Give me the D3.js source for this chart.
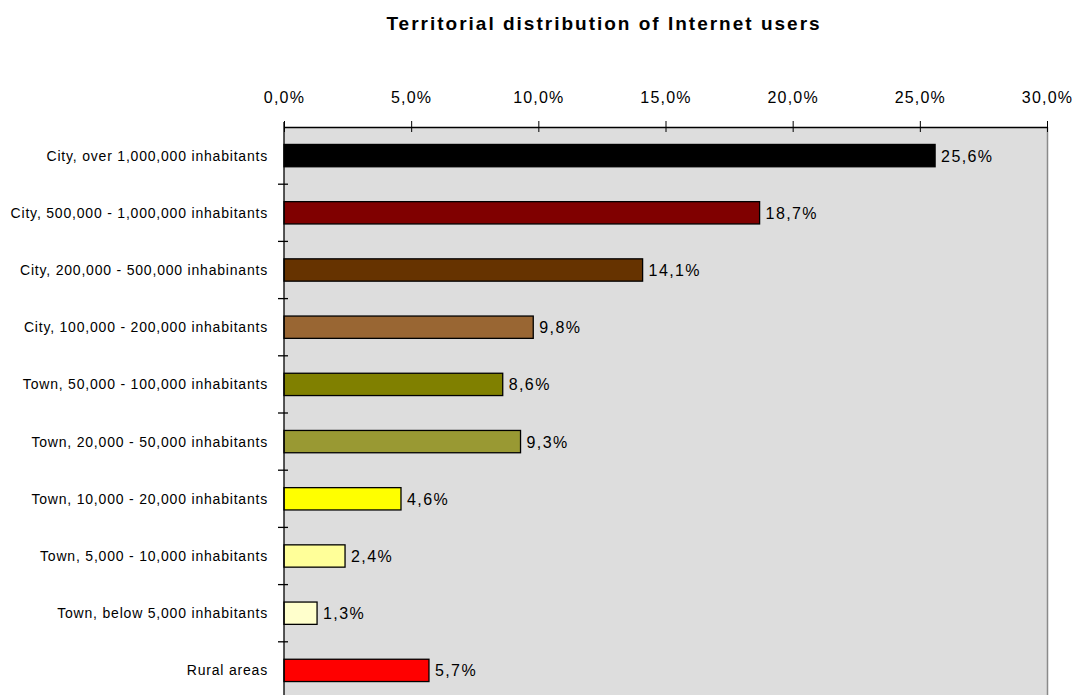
<!DOCTYPE html>
<html>
<head>
<meta charset="utf-8">
<script src="https://cdn.jsdelivr.net/npm/d3@7"></script>
<style>
  body { margin: 0; background: #fff; }
  text { font-family: "Liberation Sans", Arial, sans-serif; fill: #000; }
</style>
</head>
<body>
<div id="chart"></div>
<script>
var categories = [ 'City, over 1,000,000 inhabitants',
    'City, 500,000 - 1,000,000 inhabitants',
    'City, 200,000 - 500,000 inhabinants',
    'City, 100,000 - 200,000 inhabitants',
    'Town, 50,000 - 100,000 inhabitants',
    'Town, 20,000 - 50,000 inhabitants',
    'Town, 10,000 - 20,000 inhabitants',
    'Town, 5,000 - 10,000 inhabitants',
    'Town, below 5,000 inhabitants',
    'Rural areas' ];

var values = [ 25.6, 18.7, 14.1, 9.8, 8.6, 9.3, 4.6, 2.4, 1.3, 5.7 ];

var barColors = [ '#000000', '#800000', '#663300', '#996633',
    '#808000', '#999933', '#ffff00', '#ffff99', '#ffffcc', '#ff0000' ];

var tickValues = [ 0, 5, 10, 15, 20, 25, 30 ];

var svg,
    x, y;

// plot box (window.top is reserved, so plotTop)
var plotLeft = 284, plotTop = 127, plotRight = 1047;
var bandH = 57.2;

function fmt (v) {
    return v.toFixed(1).replace('.', ',') + '%';
}

function setupSVG (id) {
    svg = d3.select('#' + id).append("svg")
        .attr("width", 1075)
        .attr("height", 695);
}

function drawChart () {
    x = d3.scaleLinear().domain([0, 30]).range([plotLeft, plotRight]);
    y = d3.scaleBand().domain(categories)
        .range([plotTop, plotTop + bandH * categories.length])
        .paddingInner(0.61).paddingOuter(0.305);

    // plot area
    svg.append("rect")
        .attr("x", plotLeft).attr("y", plotTop)
        .attr("width", plotRight - plotLeft).attr("height", 695 - plotTop + 10)
        .attr("fill", "#dddddd");
    svg.append("line")
        .attr("x1", plotRight + 0.5).attr("x2", plotRight + 0.5)
        .attr("y1", plotTop).attr("y2", 695)
        .attr("stroke", "#8a8a8a").attr("stroke-width", 1.5);

    // bars
    svg.selectAll("rect.bar").data(values).enter().append("rect")
        .attr("class", "bar")
        .attr("x", x(0))
        .attr("y", function (d, i) { return y(categories[i]); })
        .attr("width", function (d) { return x(d) - x(0); })
        .attr("height", y.bandwidth())
        .attr("fill", function (d, i) { return barColors[i]; })
        .attr("stroke", "#000")
        .attr("stroke-width", 1.3);

    // value labels
    svg.selectAll("text.val").data(values).enter().append("text")
        .attr("class", "val")
        .attr("x", function (d) { return x(d) + 6; })
        .attr("y", function (d, i) { return y(categories[i]) + y.bandwidth() / 2 + 6; })
        .attr("font-size", "16px")
        .attr("letter-spacing", "1.4px")
        .text(fmt);

    // top axis
    var xAxis = d3.axisTop(x).tickValues(tickValues)
        .tickFormat(fmt)
        .tickSizeInner(5).tickSizeOuter(0).tickPadding(19);
    var gx = svg.append("g").attr("transform", "translate(0," + plotTop + ")").call(xAxis);
    gx.selectAll(".tick line").attr("y2", 5).attr("y1", -6).attr("stroke", "#000");
    gx.select(".domain").attr("stroke", "#000").attr("stroke-width", 1.3);
    gx.selectAll("text").attr("font-size", "16px")
        .attr("letter-spacing", "1.2px")
        .style("font-family", "Liberation Sans, Arial, sans-serif").attr("fill", "#000");

    // left axis with ticks between categories
    svg.append("line")
        .attr("x1", plotLeft).attr("x2", plotLeft)
        .attr("y1", plotTop - 5).attr("y2", 695)
        .attr("stroke", "#000").attr("stroke-width", 1.3);
    svg.selectAll("line.ytick").data(d3.range(1, categories.length)).enter().append("line")
        .attr("class", "ytick")
        .attr("x1", plotLeft - 6).attr("x2", plotLeft + 4)
        .attr("y1", function (i) { return y(categories[i]) - y.step() * y.paddingInner() / 2; })
        .attr("y2", function (i) { return y(categories[i]) - y.step() * y.paddingInner() / 2; })
        .attr("stroke", "#000").attr("stroke-width", 1.3);

    // category labels
    svg.selectAll("text.cat").data(categories).enter().append("text")
        .attr("class", "cat")
        .attr("x", plotLeft - 16)
        .attr("y", function (d) { return y(d) + y.bandwidth() / 2 + 5; })
        .attr("text-anchor", "end")
        .attr("font-size", "14px")
        .attr("letter-spacing", "0.8px")
        .text(function (d) { return d; });

    // title
    svg.append("text")
        .attr("x", 604).attr("y", 30)
        .attr("text-anchor", "middle")
        .attr("font-size", "19px")
        .attr("font-weight", "bold")
        .attr("letter-spacing", "2px")
        .text("Territorial distribution of Internet users");
}

setupSVG('chart');
drawChart();
</script>
</body>
</html>
